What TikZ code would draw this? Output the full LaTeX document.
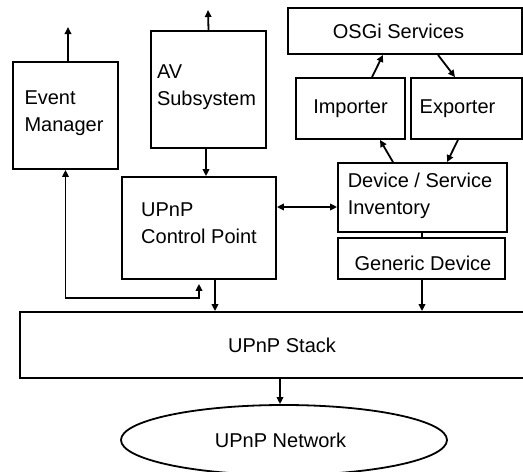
\documentclass[tikz,border=0pt]{standalone}
\usepackage{fontspec}
\setmainfont{Liberation Sans}
\usetikzlibrary{arrows.meta,shapes.geometric}
\begin{document}
\begin{tikzpicture}[x=1pt,y=-1pt,
  box/.style={draw,line width=1.8pt,rectangle,inner sep=0pt},
  txt/.style={font=\fontsize{20}{27}\selectfont,align=left,inner sep=0pt},
  arr/.style={line width=1.8pt,-{Triangle[length=7pt,width=6.5pt]}},
  arrb/.style={line width=1.8pt,{Triangle[length=7pt,width=6.5pt]}-{Triangle[length=7pt,width=6.5pt]}},
  ln/.style={line width=1.8pt}]
\useasboundingbox (0,0) rectangle (523,472);
% boxes
\node[box,minimum width=105pt,minimum height=107pt,
  label={[txt,xshift=-1.5pt,yshift=2.5pt]center:Event\\Manager}] (em) at (65.5,115.5) {};
\node[box,minimum width=115pt,minimum height=117pt,
  label={[txt,xshift=-2pt,yshift=2.5pt]center:AV\\Subsystem}] (av) at (208.5,89.5) {};
\node[box,minimum width=154pt,minimum height=102pt,
  label={[txt,yshift=5pt]center:UPnP\\Control Point}] (cp) at (199,228) {};
\node[box,minimum width=234pt,minimum height=46pt,
  label={[txt,xshift=-6.5pt]center:OSGi Services}] (osgi) at (405,31) {};
\node[box,minimum width=109pt,minimum height=61pt,
  label={[txt]center:Importer}] (imp) at (350.5,108.5) {};
\node[box,minimum width=111pt,minimum height=61pt,
  label={[txt,xshift=-9pt]center:Exporter}] (exp) at (466.5,108.5) {};
\node[box,minimum width=169pt,minimum height=69pt,
  label={[txt,xshift=-2.5pt,yshift=1.5pt]center:Device / Service\\Inventory}] (dsi) at (422.5,197.5) {};
\node[box,minimum width=167pt,minimum height=41pt,
  label={[txt,xshift=1.5pt,yshift=-5pt]center:Generic Device}] (gd) at (421.5,258.5) {};
\node[box,minimum width=515pt,minimum height=66pt,
  label={[txt,xshift=4.5pt]center:UPnP Stack}] (stack) at (277.5,345) {};
\node[draw,line width=1.8pt,ellipse,inner sep=0pt,minimum width=326pt,minimum height=70pt,
  label={[txt,xshift=-3.5pt]center:UPnP Network}] (net) at (284,440) {};
% free ends
\coordinate (emout) at (68,27);
\coordinate (avout) at (208,10);
% connectors
\draw[arr] ([xshift=2.5pt]em.north) -- (emout);
\draw[arr] (av.north) -- (avout);
\draw[arr] ([xshift=-2.5pt]av.south) -- ([xshift=-2.5pt]av.south |- cp.north);
\coordinate (c1) at ([yshift=21pt]cp.east);
\draw[arrb] (c1) -- (c1 -| dsi.west);
\draw[arr] ([xshift=-29.5pt]dsi.north) -- ([xshift=29.5pt]imp.south);
\draw[arr] ([xshift=21.5pt]imp.north) -- ([xshift=-22pt]osgi.south);
\draw[arr] ([xshift=33pt]osgi.south) -- ([xshift=-11.5pt]exp.north);
\draw[arr] ([xshift=-8.5pt]exp.south) -- ([xshift=24.5pt]dsi.north);
\draw[ln] ([xshift=-0.5pt]dsi.south) -- ([xshift=-0.5pt]dsi.south |- gd.north);
\draw[arr] ([xshift=0.5pt]gd.south) -- ([xshift=0.5pt]gd.south |- stack.north);
\draw[arr] ([xshift=16pt]cp.south) -- ([xshift=16pt]cp.south |- stack.north);
\draw[arr] ([xshift=-4pt]net.north |- stack.south) -- ([xshift=-4pt]net.north);
\coordinate (bus) at (199,298);
\draw[arrb,shorten >=4pt] (em.south) |- (bus) -- (bus |- cp.south);
\end{tikzpicture}
\end{document}
